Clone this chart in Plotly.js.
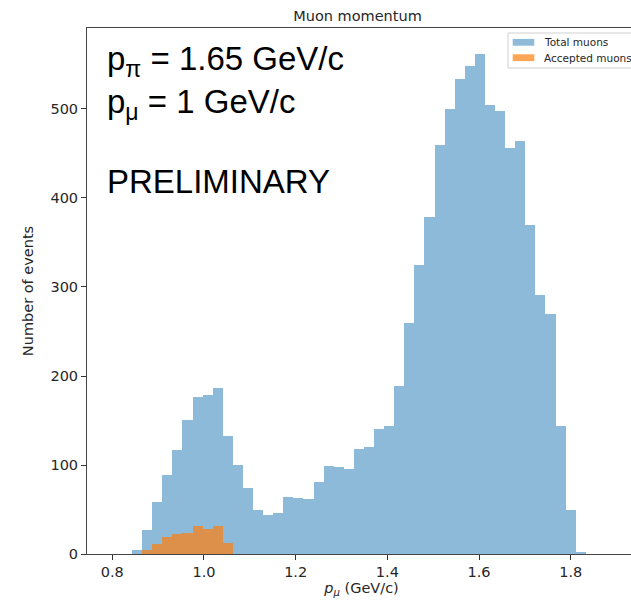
<!DOCTYPE html>
<html>
<head>
<meta charset="utf-8">
<script src="https://cdn.plot.ly/plotly-3.0.1.min.js"></script>
<style>
  html, body { margin: 0; padding: 0; overflow: hidden; background: #fff; width: 631px; height: 600px; }
  #wrap { width: 631px; height: 600px; overflow: hidden; position: relative; }
  #chart { width: 640px; height: 600px; position: absolute; left: 0; top: 0; }
</style>
</head>
<body>
<div id="wrap"><div id="chart"></div></div>
<script>
// ---- data ----
const binStart = 0.843;      // left edge of the first histogram bin (GeV/c)
const binWidth = 0.022;      // bin width (GeV/c)
const totalCounts = [4, 27, 58, 89, 117, 151, 176, 179, 187, 133,
                     100, 74, 50, 44, 46, 64, 63, 62, 81, 99,
                     98, 95, 118, 120, 140, 144, 189, 259, 325, 379,
                     460, 500, 534, 548, 562, 505, 498, 456, 464, 370,
                     291, 270, 144, 49, 2];
const acceptedCounts = [0, 5, 11, 19, 23, 24, 32, 28, 32, 12];
const seriesNames = ["Total muons", "Accepted muons"];
const seriesColors = ["#1f77b4", "#ff7f0e"];
const seriesOpacity = [0.5, 0.7];
const xTickVals = [0.8, 1.0, 1.2, 1.4, 1.6, 1.8];
const xTickText = ["0.8", "1.0", "1.2", "1.4", "1.6", "1.8"];
const yTickVals = [0, 100, 200, 300, 400, 500];
const yTickText = ["0", "100", "200", "300", "400", "500"];

const centers = n => Array.from({length: n}, (_, i) => binStart + binWidth * (i + 0.5));

// ---- layout geometry ----
const L = 87, R = 4, T = 28, B = 46, W = 640, H = 600;
const plotW = W - L - R, plotH = H - T - B;
const px = x => (x - L) / plotW;
const py = y => (H - B - y) / plotH;

const traces = [totalCounts, acceptedCounts].map((counts, k) => ({
  type: "bar", name: seriesNames[k],
  x: centers(counts.length), y: counts,
  width: binWidth,
  marker: {color: seriesColors[k], line: {width: 0}},
  opacity: seriesOpacity[k], hoverinfo: "x+y", showlegend: false
}));

const axisFont = {family: "DejaVu Sans, sans-serif", size: 14.5, color: "#262626"};
const bigFont = {family: "Liberation Sans, Arial, sans-serif", size: 33, color: "#000"};
const legFont = {family: "DejaVu Sans, sans-serif", size: 10.5, color: "#262626"};

// hand-built legend box (matplotlib style)
const legendShapes = [
  {type: "rect", xref: "paper", yref: "paper", x0: px(508), x1: px(638), y0: py(68), y1: py(33),
   fillcolor: "rgba(255,255,255,0.8)", line: {color: "#d0d0d0", width: 1}, layer: "above"}
];
const legendAnnots = [];
seriesNames.forEach((name, k) => {
  const yc = 42.3 + k * 15.4;
  legendShapes.push({type: "rect", xref: "paper", yref: "paper",
    x0: px(512.7), x1: px(534.3), y0: py(yc + 3.4), y1: py(yc - 3.4),
    fillcolor: seriesColors[k], opacity: seriesOpacity[k], line: {width: 0}, layer: "above"});
  legendAnnots.push({text: name, xref: "paper", yref: "paper",
    x: px(542), y: py(yc), xanchor: "left", yanchor: "middle",
    showarrow: false, font: legFont});
});

const layout = {
  width: W, height: H,
  margin: {l: L, r: R, t: T, b: B, pad: 0},
  paper_bgcolor: "#fff", plot_bgcolor: "#fff",
  barmode: "overlay", bargap: 0,
  title: {
    text: "Muon momentum",
    font: axisFont,
    xref: "paper", x: px(357.5), xanchor: "center",
    yref: "container", y: 1 - 16 / H, yanchor: "middle"
  },
  xaxis: {
    range: [0.7448, 0.7448 + plotW / 458.4],
    tickmode: "array", tickvals: xTickVals, ticktext: xTickText,
    ticks: "outside", ticklen: 5, tickwidth: 1, tickcolor: "#333",
    showline: true, linecolor: "#444", linewidth: 1, mirror: true,
    showgrid: false, zeroline: false,
    tickfont: axisFont,
    title: {text: "<i>p</i><sub><i>μ</i></sub> (GeV/c)", font: axisFont, standoff: 3}
  },
  yaxis: {
    range: [0, 591],
    tickmode: "array", tickvals: yTickVals, ticktext: yTickText,
    ticks: "outside", ticklen: 5, tickwidth: 1, tickcolor: "#333",
    showline: true, linecolor: "#444", linewidth: 1, mirror: true,
    showgrid: false, zeroline: false,
    tickfont: axisFont,
    title: {text: "Number of events", font: axisFont, standoff: 13}
  },
  showlegend: false,
  shapes: legendShapes,
  annotations: [
    {text: "p<sub>π</sub> = 1.65 GeV/c", xref: "paper", yref: "paper",
     x: px(105), y: py(61), xanchor: "left", yanchor: "middle",
     showarrow: false, font: bigFont},
    {text: "p<sub>μ</sub> = 1 GeV/c", xref: "paper", yref: "paper",
     x: px(105), y: py(104), xanchor: "left", yanchor: "middle",
     showarrow: false, font: bigFont},
    {text: "PRELIMINARY", xref: "paper", yref: "paper",
     x: px(105), y: py(181), xanchor: "left", yanchor: "middle",
     showarrow: false, font: bigFont}
  ].concat(legendAnnots)
};

Plotly.newPlot("chart", traces, layout, {displayModeBar: false, staticPlot: true});
</script>
</body>
</html>
